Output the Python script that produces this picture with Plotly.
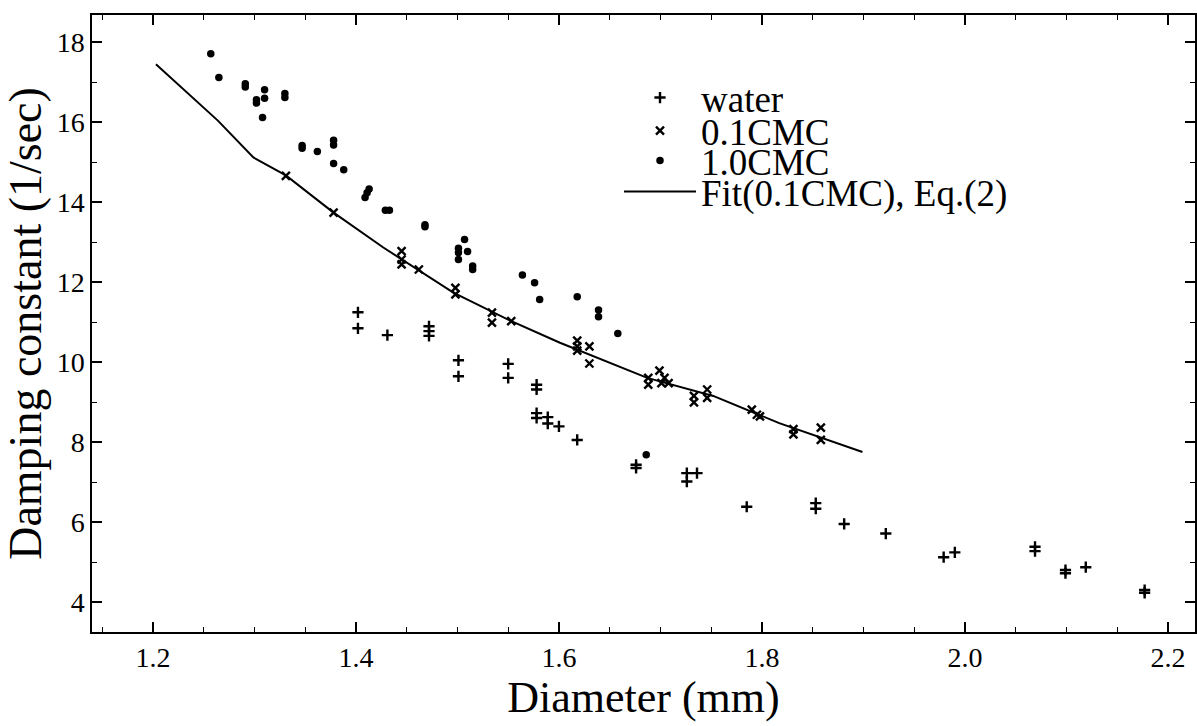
import plotly.graph_objects as go

# ---- data ----
water_d = [1.402, 1.402, 1.431, 1.472, 1.472, 1.472, 1.501, 1.501, 1.550, 1.550,
           1.578, 1.578, 1.578, 1.578, 1.589, 1.589, 1.600, 1.618, 1.676, 1.676,
           1.726, 1.726, 1.736, 1.785, 1.853, 1.853, 1.881, 1.922, 1.979, 1.990,
           2.069, 2.069, 2.099, 2.099, 2.119, 2.177, 2.177]
water_v = [11.25, 10.85, 10.68, 10.90, 10.78, 10.66, 10.05, 9.65, 9.96, 9.61,
           9.44, 9.32, 8.73, 8.61, 8.63, 8.47, 8.40, 8.06, 7.44, 7.36,
           7.23, 7.02, 7.23, 6.39, 6.48, 6.34, 5.96, 5.72, 5.13, 5.25,
           5.39, 5.28, 4.81, 4.73, 4.88, 4.31, 4.24]

cmc01_d = [1.331, 1.378, 1.445, 1.445, 1.445, 1.462, 1.498, 1.498, 1.534, 1.534,
           1.553, 1.618, 1.618, 1.618, 1.630, 1.630, 1.688, 1.688, 1.699, 1.701,
           1.704, 1.708, 1.733, 1.733, 1.746, 1.746, 1.790, 1.795, 1.798, 1.831,
           1.831, 1.858, 1.858]
cmc01_v = [14.66, 13.74, 12.78, 12.57, 12.45, 12.32, 11.86, 11.70, 11.24, 10.99,
           11.03, 10.54, 10.40, 10.29, 10.40, 9.97, 9.61, 9.44, 9.79, 9.48,
           9.61, 9.48, 9.16, 9.00, 9.32, 9.11, 8.82, 8.69, 8.65, 8.33,
           8.20, 8.37, 8.06]

cmc10_d = [1.257, 1.265, 1.291, 1.291, 1.302, 1.302, 1.310, 1.310, 1.308, 1.330,
           1.330, 1.347, 1.347, 1.362, 1.378, 1.378, 1.378, 1.388, 1.409, 1.411,
           1.413, 1.429, 1.433, 1.468, 1.468, 1.507, 1.501, 1.501, 1.501, 1.510,
           1.515, 1.515, 1.564, 1.576, 1.581, 1.618, 1.639, 1.639, 1.658, 1.686]
cmc10_v = [17.71, 17.12, 16.96, 16.88, 16.56, 16.48, 16.81, 16.60, 16.12, 16.72,
           16.62, 15.42, 15.35, 15.27, 15.55, 15.43, 14.97, 14.81, 14.12, 14.24,
           14.33, 13.80, 13.80, 13.44, 13.39, 13.07, 12.85, 12.74, 12.57, 12.77,
           12.41, 12.32, 12.18, 11.99, 11.57, 11.64, 11.31, 11.14, 10.72, 7.69]

fit_d = [1.203, 1.264, 1.299, 1.331, 1.378, 1.427, 1.496, 1.552, 1.601, 1.687,
         1.752, 1.817, 1.899]
fit_v = [17.45, 16.04, 15.12, 14.67, 13.74, 12.87, 11.74, 11.04, 10.49, 9.61,
         9.16, 8.48, 7.76]

x_ticks = [1.2, 1.4, 1.6, 1.8, 2.0, 2.2]
x_ticklabels = ["1.2", "1.4", "1.6", "1.8", "2.0", "2.2"]
y_ticks = [4, 6, 8, 10, 12, 14, 16, 18]

FONT = "Liberation Serif"
W, H = 1197, 726
ML, MR, MT, MB = 92, 2, 15, 94
PW, PH = W - ML - MR, H - MT - MB

fig = go.Figure()
fig.add_trace(go.Scatter(
    x=water_d, y=water_v, mode="markers", name="water", legend="legend",
    marker=dict(symbol="cross-thin", size=8, line=dict(width=2.4, color="black"), color="black")))
fig.add_trace(go.Scatter(
    x=cmc01_d, y=cmc01_v, mode="markers", name="0.1CMC", legend="legend2",
    marker=dict(symbol="x-thin", size=8, line=dict(width=2.4, color="black"), color="black")))
fig.add_trace(go.Scatter(
    x=cmc10_d, y=cmc10_v, mode="markers", name="1.0CMC", legend="legend3",
    marker=dict(symbol="circle", size=7.5, color="black")))
fig.add_trace(go.Scatter(
    x=fit_d, y=fit_v, mode="lines", name="Fit(0.1CMC), Eq.(2)", legend="legend4",
    line=dict(color="black", width=2)))

leg_common = dict(xref="paper", yref="paper", xanchor="left", yanchor="middle",
                  bgcolor="rgba(0,0,0,0)", borderwidth=0, itemwidth=72,
                  font=dict(family=FONT, size=37, color="black"))
lx = 619
for name, cy in [("legend", 98), ("legend2", 131), ("legend3", 161), ("legend4", 192)]:
    fig.update_layout(**{name: dict(x=(lx - ML) / PW, y=1 - (cy - MT) / PH, **leg_common)})

axis_common = dict(showline=True, linecolor="black", linewidth=1.5, mirror="ticks",
                   ticks="inside", ticklen=10, tickwidth=1.5, tickcolor="black",
                   showgrid=False, zeroline=False,
                   tickfont=dict(family=FONT, size=28, color="black"))

fig.update_xaxes(range=[1.140, 2.2266], tickvals=x_ticks, ticktext=x_ticklabels,
                 minor=dict(ticks="inside", ticklen=5, tickwidth=1.2, tickcolor="black", dtick=0.05,
                            tick0=1.2, showgrid=False),
                 title=dict(text="Diameter (mm)", font=dict(family=FONT, size=44, color="black"),
                            standoff=8),
                 **axis_common)
fig.update_yaxes(range=[3.26, 18.68], tickvals=y_ticks,
                 minor=dict(ticks="inside", ticklen=5, tickwidth=1.2, tickcolor="black", dtick=1,
                            tick0=4, showgrid=False),
                 title=dict(text="Damping constant (1/sec)", font=dict(family=FONT, size=46, color="black"),
                            standoff=4),
                 **axis_common)

fig.update_layout(width=W, height=H, margin=dict(l=ML, r=MR, t=MT, b=MB, autoexpand=False),
                  plot_bgcolor="white", paper_bgcolor="white", showlegend=True,
                  font=dict(family=FONT, color="black"))

fig.write_html("out.html")
